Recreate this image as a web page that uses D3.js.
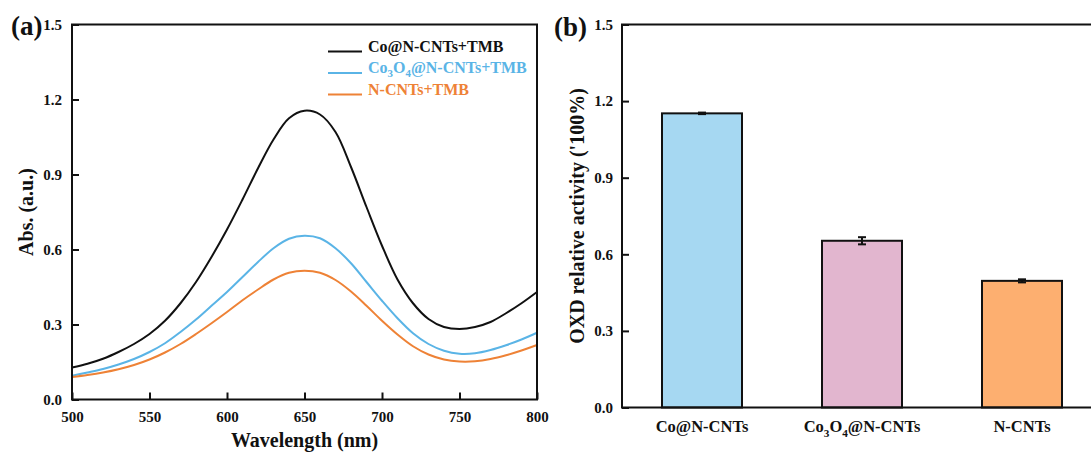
<!DOCTYPE html>
<html>
<head>
<meta charset="utf-8">
<script src="https://cdn.jsdelivr.net/npm/d3@7"></script>
<style>
  body { margin: 0; background: #fff; }
  svg text { font-family: "Liberation Serif", "Times New Roman", serif; font-weight: bold; }
</style>
</head>
<body>
<svg id="chart" width="1091" height="457"></svg>
<script>
// ---- data (a): UV-vis spectra ----
const wavelengths = [500, 510, 520, 530, 540, 550, 560, 570, 580, 590, 600, 610, 620, 630, 640, 650,
                     660, 670, 680, 690, 700, 710, 720, 730, 740, 750, 760, 770, 780, 790, 800];
const absCo = [0.128, 0.143, 0.163, 0.19, 0.222, 0.262, 0.315, 0.385, 0.47, 0.57, 0.68, 0.8, 0.925, 1.04, 1.125, 1.155,
               1.14, 1.07, 0.93, 0.77, 0.615, 0.48, 0.385, 0.322, 0.29, 0.282, 0.29, 0.31, 0.345, 0.385, 0.43];
const absCo3O4 = [0.095, 0.108, 0.122, 0.14, 0.162, 0.19, 0.225, 0.27, 0.32, 0.375, 0.43, 0.49, 0.55, 0.605, 0.643, 0.655,
                  0.645, 0.605, 0.545, 0.47, 0.395, 0.325, 0.265, 0.222, 0.195, 0.183, 0.185, 0.198, 0.217, 0.24, 0.267];
const absNCNT = [0.09, 0.098, 0.108, 0.121, 0.138, 0.16, 0.188, 0.222, 0.262, 0.305, 0.35, 0.397, 0.44, 0.48, 0.507, 0.515,
                 0.507, 0.478, 0.432, 0.375, 0.315, 0.26, 0.213, 0.18, 0.16, 0.152, 0.153, 0.162, 0.177, 0.196, 0.218];
const seriesNames = ["Co@N-CNTs+TMB", "Co_3O_4@N-CNTs+TMB", "N-CNTs+TMB"];
const seriesColors = ["#111111", "#5ab4e6", "#ee8236"];
const xTicksA = [500, 550, 600, 650, 700, 750, 800];
const yTicks = [0, 0.3, 0.6, 0.9, 1.2, 1.5];

// ---- data (b): relative activity ----
const categories = ["Co@N-CNTs", "Co_3O_4@N-CNTs", "N-CNTs"];
const activity = [1.152, 0.653, 0.496];
const activityErr = [0.003, 0.014, 0.006];
const barColors = ["#a6d8f2", "#e2b6cf", "#fdaf70"];

const svg = d3.select("#chart");

// texto con subíndices: "_3" -> 3 en subíndice
function richText(sel, str, size) {
  const parts = str.split(/_(\d)/);
  parts.forEach((p, i) => {
    if (p === "") return;
    const sub = i % 2 === 1;
    sel.append("tspan")
      .attr("font-size", sub ? size * 0.68 : size)
      .attr("dy", sub ? size * 0.28 : (i > 0 ? -size * 0.28 : 0))
      .text(p);
  });
}

function styleAxis(g) {
  g.select(".domain").remove();
  g.selectAll(".tick line").attr("stroke", "#111").attr("stroke-width", 2);
  g.selectAll(".tick text").attr("fill", "#111").attr("font-size", 15);
}

// ================= panel (a) =================
const a = { left: 72, right: 537, top: 24.5, bottom: 399.5 };
const xA = d3.scaleLinear().domain([500, 800]).range([a.left, a.right]);
const yA = d3.scaleLinear().domain([0, 1.5]).range([a.bottom, a.top]);

const gA = svg.append("g");
const spectra = [absCo, absCo3O4, absNCNT];
const line = d3.line()
  .x((d, i) => xA(wavelengths[i]))
  .y(d => yA(d))
  .curve(d3.curveCatmullRom);

gA.selectAll(".spec")
  .data(spectra)
  .enter().append("path")
  .attr("class", "spec")
  .attr("d", line)
  .attr("fill", "none")
  .attr("stroke", (d, i) => seriesColors[i])
  .attr("stroke-width", 2);

gA.append("g")
  .attr("transform", `translate(0,${a.bottom})`)
  .call(d3.axisBottom(xA).tickValues(xTicksA).tickSize(-7).tickPadding(12).tickFormat(d3.format("d")))
  .call(styleAxis);

gA.append("g")
  .attr("transform", `translate(${a.left},0)`)
  .call(d3.axisLeft(yA).tickValues(yTicks).tickSize(-7).tickPadding(10).tickFormat(d3.format(".1f")))
  .call(styleAxis);

// marco
gA.append("rect")
  .attr("x", a.left).attr("y", a.top)
  .attr("width", a.right - a.left).attr("height", a.bottom - a.top)
  .attr("fill", "none").attr("stroke", "#111").attr("stroke-width", 2);

gA.append("text")
  .attr("x", (a.left + a.right) / 2).attr("y", 447)
  .attr("text-anchor", "middle").attr("font-size", 20).attr("fill", "#111")
  .text("Wavelength (nm)");

gA.append("text")
  .attr("transform", `translate(33,${(a.top + a.bottom) / 2}) rotate(-90)`)
  .attr("text-anchor", "middle").attr("font-size", 20).attr("fill", "#111")
  .text("Abs. (a.u.)");

gA.append("text")
  .attr("x", 11).attr("y", 35)
  .attr("font-size", 27).attr("fill", "#111")
  .text("(a)");

// leyenda
const legend = gA.selectAll(".leg")
  .data(seriesNames)
  .enter().append("g")
  .attr("class", "leg")
  .attr("transform", (d, i) => `translate(328,${51.5 + i * 21.5})`);
legend.append("line")
  .attr("x1", 0).attr("x2", 34)
  .attr("stroke", (d, i) => seriesColors[i]).attr("stroke-width", 2);
legend.append("text")
  .attr("x", 40).attr("dy", "0.35em")
  .attr("fill", (d, i) => seriesColors[i])
  .each(function(d) { richText(d3.select(this), d, 16); });

// ================= panel (b) =================
const b = { left: 622, right: 1102, top: 24.5, bottom: 407.5 };
const xB = d3.scaleBand().domain(categories).range([b.left, b.right]).paddingInner(0.5).paddingOuter(0.25);
const yB = d3.scaleLinear().domain([0, 1.5]).range([b.bottom, b.top]);

const gB = svg.append("g");

gB.selectAll(".bar")
  .data(activity)
  .enter().append("rect")
  .attr("class", "bar")
  .attr("x", (d, i) => xB(categories[i]))
  .attr("y", d => yB(d))
  .attr("width", xB.bandwidth())
  .attr("height", d => yB(0) - yB(d))
  .attr("fill", (d, i) => barColors[i])
  .attr("stroke", "#111")
  .attr("stroke-width", 2);

// barras de error
const err = gB.selectAll(".err")
  .data(activity)
  .enter().append("g")
  .attr("class", "err")
  .attr("transform", (d, i) => `translate(${xB(categories[i]) + xB.bandwidth() / 2},0)`);
err.append("line")
  .attr("y1", (d, i) => yB(d + activityErr[i])).attr("y2", (d, i) => yB(d - activityErr[i]))
  .attr("stroke", "#111").attr("stroke-width", 2);
err.selectAll(".cap")
  .data((d, i) => [d + activityErr[i], d - activityErr[i]])
  .enter().append("line")
  .attr("x1", -4).attr("x2", 4)
  .attr("y1", d => yB(d)).attr("y2", d => yB(d))
  .attr("stroke", "#111").attr("stroke-width", 2);

gB.append("g")
  .attr("transform", `translate(${b.left},0)`)
  .call(d3.axisLeft(yB).tickValues(yTicks).tickSize(-7).tickPadding(9).tickFormat(d3.format(".1f")))
  .call(styleAxis);

// eje x y marco superior
gB.append("path")
  .attr("d", `M${b.right},${b.top}H${b.left}V${b.bottom}H${b.right}`)
  .attr("fill", "none").attr("stroke", "#111").attr("stroke-width", 2);

gB.selectAll(".cat")
  .data(categories)
  .enter().append("text")
  .attr("class", "cat")
  .attr("x", d => xB(d) + xB.bandwidth() / 2)
  .attr("y", 432)
  .attr("text-anchor", "middle").attr("fill", "#111")
  .each(function(d) { richText(d3.select(this), d, 16.5); });

gB.append("text")
  .attr("transform", `translate(584,${(b.top + b.bottom) / 2}) rotate(-90)`)
  .attr("text-anchor", "middle").attr("font-size", 20).attr("fill", "#111")
  .text("OXD relative activity ('100%)");

gB.append("text")
  .attr("x", 554).attr("y", 36)
  .attr("font-size", 27).attr("fill", "#111")
  .text("(b)");
</script>
</body>
</html>
